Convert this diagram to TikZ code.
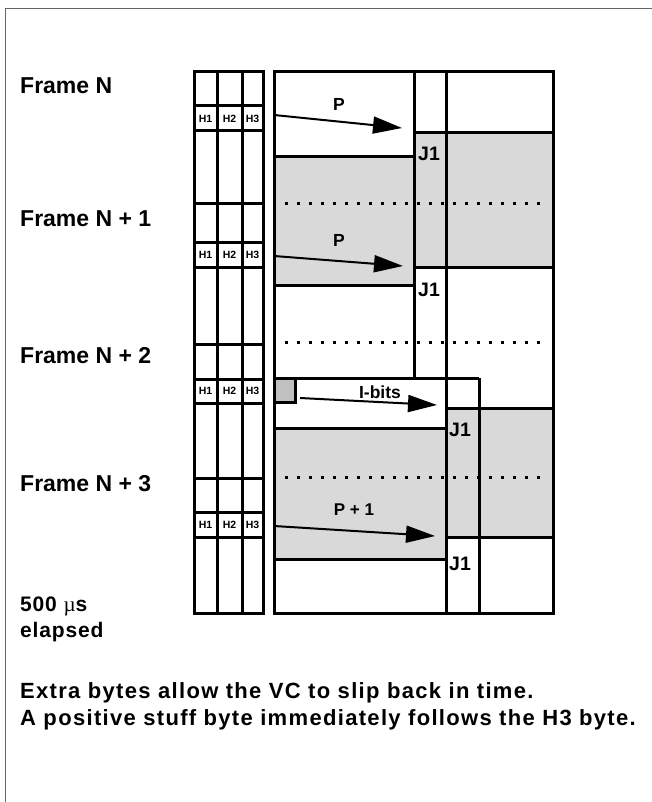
\documentclass[tikz,border=0pt]{standalone}
\usepackage{fontspec}
\setmainfont{Liberation Sans}[BoldFont={Liberation Sans Bold}]
\newfontfamily\symfont{Liberation Serif}
\newfontfamily\notefont{Liberation Sans Bold}[LetterSpace=6]
\newfontfamily\elapsedfont{Liberation Sans Bold}[LetterSpace=4]
\usetikzlibrary{arrows.meta}
\definecolor{paneshade}{HTML}{D9D9D9}
\definecolor{ibitshade}{HTML}{C0C0C0}
\definecolor{borderline}{HTML}{666666}
\begin{document}
\begin{tikzpicture}[x=1pt,y=-1pt,
  gridline/.style={line width=3pt},
  dotrow/.style={line width=3pt, dash pattern=on 3pt off 9pt},
  pointer/.style={line width=2pt, -{Triangle[length=29pt,width=17pt]}},
  framelabel/.style={anchor=base west, inner sep=0pt, font=\bfseries\fontsize{23}{27}\selectfont},
  notelabel/.style={anchor=base west, inner sep=0pt, font=\notefont\fontsize{22}{26}\selectfont},
  hlabel/.style={inner sep=0pt, font=\bfseries\fontsize{10.5}{12}\selectfont},
  jlabel/.style={inner sep=0pt, font=\bfseries\fontsize{19.5}{22}\selectfont},
  plabel/.style={inner sep=0pt, font=\bfseries\fontsize{17.5}{20}\selectfont}]
\useasboundingbox (0,0) rectangle (652,802);
% outer border (left and top only visible)
\draw[borderline, line width=1.5pt] (5.5,802) -- (5.5,8.5) -- (652,8.5);

% grey fills
\fill[paneshade] (274,157) rectangle (414,285);
\fill[paneshade] (414,133) rectangle (553,267);
\fill[paneshade] (446,408) rectangle (553,537);
\fill[paneshade] (274,428) rectangle (446,559);
\fill[ibitshade] (274,378) rectangle (295,402);

% dotted frame boundaries
\draw[dotrow] (285,204) -- (540,204);
\draw[dotrow] (285,342) -- (540,342);
\draw[dotrow] (285,477) -- (540,477);

% left overhead column
\draw[gridline] (194,72) rectangle (263,613);
\draw[gridline] (217,72) -- (217,613);
\draw[gridline] (242,72) -- (242,613);
\foreach \yy in {106,131,204,242,267,344,379,403,478,512,537}
  \draw[gridline] (194,\yy) -- (263,\yy);

% right payload block
\draw[gridline] (274,72) rectangle (553,613);
\draw[gridline] (414,72) -- (414,378);
\draw[gridline] (446,72) -- (446,613);
\draw[gridline] (479,378) -- (479,613);
\draw[gridline] (414,133) -- (553,133);
\draw[gridline] (274,157) -- (414,157);
\draw[gridline] (414,267) -- (553,267);
\draw[gridline] (274,285) -- (414,285);
\draw[gridline] (274,378) -- (479,378);
\draw[gridline] (446,408) -- (553,408);
\draw[gridline] (274,428) -- (446,428);
\draw[gridline] (446,537) -- (553,537);
\draw[gridline] (274,559) -- (446,559);
\draw[gridline] (274,402) -- (295,402) -- (295,378);

% H labels
\foreach \yy/\n in {119/a,255/b,391/c,525/d} {
  \node[hlabel] (h1\n) at (205.5,\yy) {H1};
  \node[hlabel] (h2\n) at (229.5,\yy) {H2};
  \node[hlabel] (h3\n) at (252.5,\yy) {H3};
}

% J1 labels
\node[jlabel] (j1a) at (429,154) {J1};
\node[jlabel] (j1b) at (429,290) {J1};
\node[jlabel] (j1c) at (460,430) {J1};
\node[jlabel] (j1d) at (460,564) {J1};

% pointer labels
\node[plabel] (pa) at (339,104) {P};
\node[plabel] (pb) at (339,240) {P};
\node[plabel] (ib) at (380,392) {I-bits};
\node[plabel, font=\bfseries\fontsize{17}{20}\selectfont] (pc) at (354,510) {P + 1};

% pointers
\coordinate (sa) at (274,115);  \coordinate (ea) at (402,128);
\coordinate (sb) at (274,256);  \coordinate (eb) at (403,266);
\coordinate (sc) at (300,398);  \coordinate (ec) at (437,405);
\coordinate (sd) at (274,526);  \coordinate (ed) at (435,536);
\draw[pointer] (sa) -- (ea);
\draw[pointer] (sb) -- (eb);
\draw[pointer] (sc) -- (ec);
\draw[pointer] (sd) -- (ed);

% left labels
\node[framelabel] (fn) at (20,94) {Frame N};
\node[framelabel] (fn1) at (20,226) {Frame N + 1};
\node[framelabel] (fn2) at (20,363) {Frame N + 2};
\node[framelabel] (fn3) at (20,491) {Frame N + 3};
\node[framelabel, font=\elapsedfont\fontsize{21}{25}\selectfont] (el1) at (20,611) {500 {\symfont\mdseries µ}s};
\node[framelabel, font=\elapsedfont\fontsize{21}{25}\selectfont] (el2) at (20,637) {elapsed};

% notes
\node[notelabel] (n1) at (20,698) {Extra bytes allow the VC to slip back in time.};
\node[notelabel] (n2) at (20,725) {A positive stuff byte immediately follows the H3 byte.};
\end{tikzpicture}
\end{document}
